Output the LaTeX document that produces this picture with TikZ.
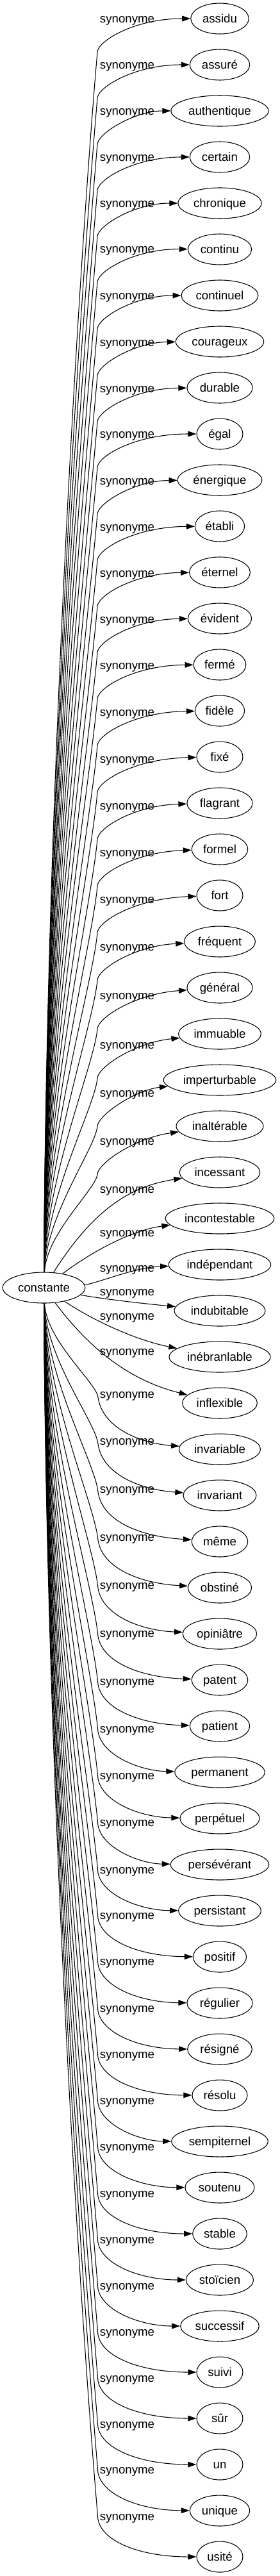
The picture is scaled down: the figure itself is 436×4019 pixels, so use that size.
\documentclass[tikz,border=0pt]{standalone}
\usepackage{fontspec}
\setmainfont{Liberation Sans}
\usetikzlibrary{arrows.meta,shapes.geometric}

\begin{document}
\begin{tikzpicture}[
    x=0.75pt, y=-0.75pt,
    every node/.style={font=\fontsize{14}{16}\selectfont, text height=11.5pt, text depth=2.5pt},
    terme/.style={ellipse, draw, line width=0.8pt, minimum width=54pt, minimum height=36pt, inner xsep=3.75pt},
    etiquette/.style={inner sep=0pt},
    fleche/.style={-{Triangle[length=9.75pt, width=6.5pt]}, line width=0.8pt}
  ]
  \useasboundingbox (0,0) rectangle (436,4019);

  \node[terme] (racine) at (68.5,2009) {constante};

  % mot / hauteur de l'etiquette
  \foreach \mot/\ly [count=\i] in {assidu/29, assuré/101, authentique/173, certain/245,
      chronique/317, continu/388, continuel/461, courageux/534, durable/606, égal/677,
      énergique/750, établi/822, éternel/894, évident/966, fermé/1038, fidèle/1111,
      fixé/1184, flagrant/1257, formel/1330, fort/1403, fréquent/1477, général/1553,
      immuable/1630, imperturbable/1705, inaltérable/1780, incessant/1855,
      incontestable/1923, indépendant/1978, indubitable/2015, inébranlable/2053,
      inflexible/2108, invariable/2175, invariant/2248, même/2323, obstiné/2398,
      opiniâtre/2473, patent/2548, patient/2623, permanent/2697, perpétuel/2770,
      persévérant/2843, persistant/2917, positif/2988, régulier/3060, résigné/3133,
      résolu/3205, sempiternel/3277, soutenu/3349, stable/3422, stoïcien/3494,
      successif/3566, suivi/3638, sûr/3710, un/3782, unique/3853, usité/3926} {
    \pgfmathsetmacro\ny{29+(\i-1)*72}
    \node[terme] (n\i) at (343,\ny) {\mot};
    \node[etiquette] (s\i) at (198.5,\ly) {synonyme};
    \ifnum\i<29
      % vers le haut
      \pgfmathsetmacro\D{1934-\ly}
      \pgfmathsetmacro\fy{\ny+0.8*(\ly-\ny)}
      \ifdim\D pt<100pt
        \draw[fleche] (racine) .. controls (150,\ly+25) and (210,\fy) .. (n\i);
      \else
        \pgfmathsetmacro\ca{1986-0.4*\D}
        \pgfmathsetmacro\cb{152-\D/76}
        \pgfmathsetmacro\cc{\ly+52+0.15*\D}
        \coordinate (b\i) at (152,\ly+52);
        \draw[fleche] (racine) .. controls (72,\ca) and (\cb,\cc) .. (b\i)
          .. controls (153,\ly+35) and (210,\fy) .. (n\i);
      \fi
    \else
      % vers le bas
      \pgfmathsetmacro\D{\ly-2028}
      \ifdim\D pt<100pt
        \pgfmathsetmacro\fy{\ny-0.4*(\ny-\ly)}
        \draw[fleche] (racine) .. controls (150,\ly+10) and (215,\fy) .. (n\i);
      \else
        \pgfmathsetmacro\fy{\ny-0.4*(\ny-\ly-63)}
        \pgfmathsetmacro\ca{2033+0.4*\D}
        \pgfmathsetmacro\cb{153-\D/76}
        \pgfmathsetmacro\cc{\ly+5-0.15*\D}
        \pgfmathsetmacro\cd{\ly+5+0.6*(\ny-\ly-5)}
        \coordinate (b\i) at (153,\ly+5);
        \draw[fleche] (racine) .. controls (72,\ca) and (\cb,\cc) .. (b\i)
          .. controls (160,\cd) and (220,\fy) .. (n\i);
      \fi
    \fi
  }
\end{tikzpicture}
\end{document}
